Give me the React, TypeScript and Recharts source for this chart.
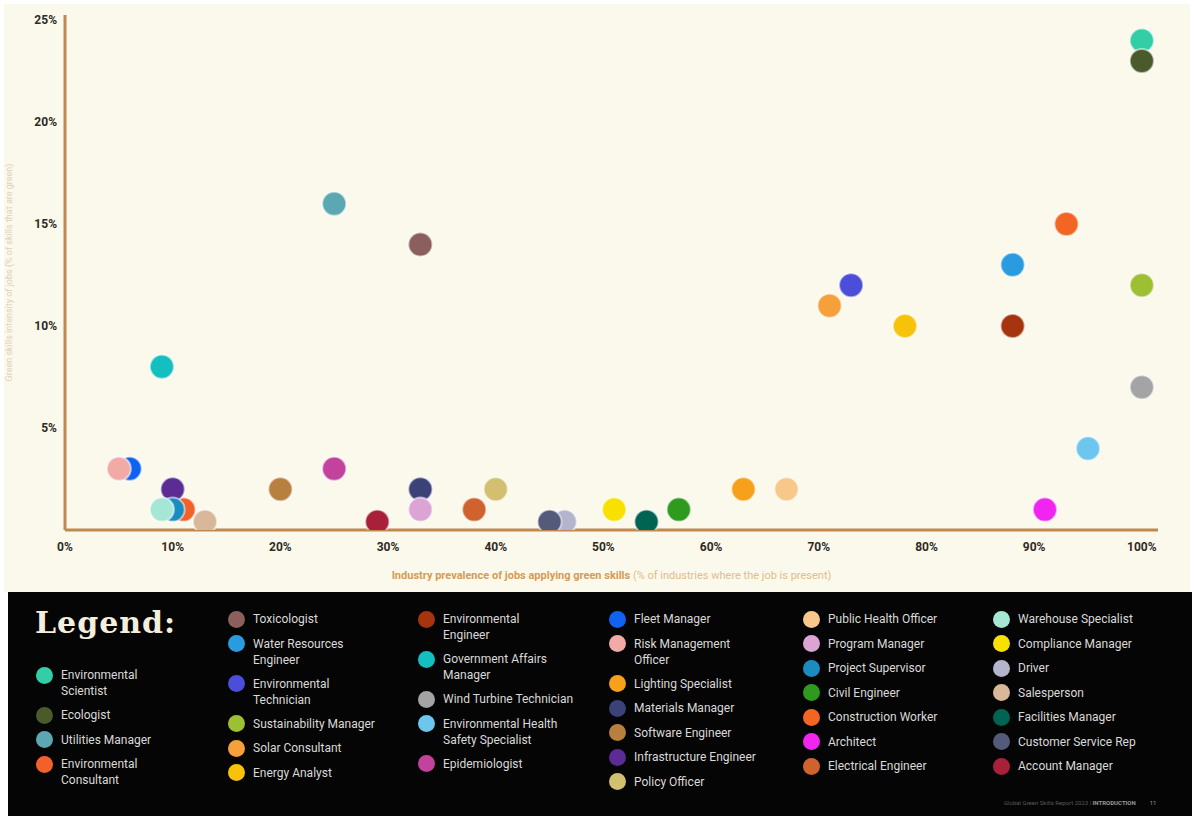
import { ScatterChart, Scatter, XAxis, YAxis } from "recharts";

// jobs in legend order; "\n" marks where the legend label wraps
const jobs = [
  "Environmental\nScientist",
  "Ecologist",
  "Utilities Manager",
  "Environmental\nConsultant",
  "Toxicologist",
  "Water Resources\nEngineer",
  "Environmental\nTechnician",
  "Sustainability Manager",
  "Solar Consultant",
  "Energy Analyst",
  "Environmental\nEngineer",
  "Government Affairs\nManager",
  "Wind Turbine Technician",
  "Environmental Health\nSafety Specialist",
  "Epidemiologist",
  "Fleet Manager",
  "Risk Management\nOfficer",
  "Lighting Specialist",
  "Materials Manager",
  "Software Engineer",
  "Infrastructure Engineer",
  "Policy Officer",
  "Public Health Officer",
  "Program Manager",
  "Project Supervisor",
  "Civil Engineer",
  "Construction Worker",
  "Architect",
  "Electrical Engineer",
  "Warehouse Specialist",
  "Compliance Manager",
  "Driver",
  "Salesperson",
  "Facilities Manager",
  "Customer Service Rep",
  "Account Manager",
];

const colors = [
  "#32cfa6", "#4a5a2a", "#5ba8b3", "#f2612a",
  "#8a5f5c", "#2b9be0", "#4a4ed8", "#9dbf34", "#f5a03a", "#f6c20a",
  "#a6340e", "#14bfc0", "#a4a4a4", "#6cc6ee", "#c2429e",
  "#0f62f2", "#f2aaa6", "#f6a01c", "#3a4278", "#b8803e", "#5a2c94", "#d2c070",
  "#f7c88a", "#dba4d4", "#1a8cc0", "#2e9a1e", "#f26522", "#f026f0", "#d0622e",
  "#a6e6d4", "#f8e000", "#b4b4cc", "#d8b898", "#006452", "#545a7a", "#a8203a",
];

// industry prevalence (% of industries where the job is present)
const prevalence = [
  100, 100, 25, 11,
  33, 88, 73, 100, 71, 78,
  88, 9, 100, 95, 25,
  6, 5, 63, 33, 20, 10, 40,
  67, 33, 10, 57, 93, 91, 38,
  9, 51, 46.4, 13, 54, 45, 29,
];

// share of green skills (%)
const greenShare = [
  24, 23, 16, 1,
  14, 13, 12, 12, 11, 10,
  10, 8, 7, 4, 3,
  3, 3, 2, 2, 2, 2, 2,
  2, 1, 1, 1, 15, 1, 1,
  1, 1, 0.4, 0.4, 0.4, 0.4, 0.4,
];

const legendColumnSizes = [4, 6, 5, 7, 7, 7];
const xTicks = [0, 10, 20, 30, 40, 50, 60, 70, 80, 90, 100];
const yTicks = [5, 10, 15, 20, 25];

const AXIS = "#bf8a52";
const CREAM = "#fbf9ec";

const Dot = (props: any) => (
  <circle
    cx={props.cx}
    cy={props.cy}
    r={12}
    fill={props.fill}
    stroke="#ffffff"
    strokeOpacity={0.55}
    strokeWidth={2}
  />
);

const XLabel = (props: any) => {
  const vb = props.viewBox;
  return (
    <text
      x={vb.x + vb.width / 2}
      y={vb.y + 49}
      textAnchor="middle"
      fontFamily="Roboto"
      fontSize={11}
    >
      <tspan fontWeight={700} fill="#d69b55">
        Industry prevalence of jobs applying green skills
      </tspan>
      <tspan fill="#e2bd88"> (% of industries where the job is present)</tspan>
    </text>
  );
};

const YLabel = (props: any) => {
  const vb = props.viewBox;
  const cy = vb.y + vb.height / 2;
  return (
    <text
      x={9}
      y={cy}
      transform={`rotate(-90, 9, ${cy})`}
      textAnchor="middle"
      dominantBaseline="central"
      fontFamily="Roboto"
      fontSize={9}
      fill="#cbb89a"
      opacity={0.6}
    >
      Green skills intensity of jobs (% of skills that are green)
    </text>
  );
};

const tickStyle = {
  fill: "#2e2a25",
  fontSize: 12,
  fontWeight: 700,
  fontFamily: "Roboto",
};

function LegendPanel() {
  const cols: number[][] = [];
  let start = 0;
  for (const n of legendColumnSizes) {
    cols.push(Array.from({ length: n }, (_, i) => start + i));
    start += n;
  }
  const colLeft = [37, 229, 419, 610, 804, 994];
  const colTop = [75, 19, 19, 19, 19, 19];
  return (
    <div
      style={{
        position: "absolute",
        left: 8,
        top: 592,
        width: 1184,
        height: 224,
        background: "#050505",
      }}
    >
      <div
        style={{
          position: "absolute",
          left: 27,
          top: 13,
          fontFamily: "DejaVu Serif",
          fontWeight: 700,
          fontSize: 30,
          letterSpacing: 1,
          color: "#f4efdc",
          lineHeight: "36px",
        }}
      >
        Legend:
      </div>
      {cols.map((idx, c) => (
        <div
          key={c}
          style={{
            position: "absolute",
            left: colLeft[c] - 9,
            top: colTop[c],
            display: "flex",
            flexDirection: "column",
            gap: 8,
          }}
        >
          {idx.map((i) => (
            <div key={i} style={{ display: "flex", alignItems: "flex-start" }}>
              <div
                style={{
                  width: 17,
                  height: 17,
                  borderRadius: "50%",
                  background: colors[i],
                  marginTop: -0.5,
                  flexShrink: 0,
                }}
              />
              <div
                style={{
                  marginLeft: 8,
                  fontFamily: "Roboto",
                  fontSize: 12,
                  lineHeight: "16px",
                  color: "#d9d9d9",
                  whiteSpace: "pre-line",
                }}
              >
                {jobs[i]}
              </div>
            </div>
          ))}
        </div>
      ))}
      <div
        style={{
          position: "absolute",
          left: 996,
          top: 207,
          fontFamily: "Roboto",
          fontSize: 6,
          color: "#5a5a5a",
          whiteSpace: "nowrap",
        }}
      >
        Global Green Skills Report 2023{"   |   "}
        <span style={{ color: "#9a9a9a", fontWeight: 700 }}>INTRODUCTION</span>
        <span style={{ marginLeft: 14, color: "#9a9a9a" }}>11</span>
      </div>
    </div>
  );
}

export default function App() {
  return (
    <div
      style={{
        position: "absolute",
        left: 0,
        top: 0,
        width: 1194,
        height: 816,
        background: "#ffffff",
        overflow: "hidden",
      }}
    >
      <div
        style={{
          position: "absolute",
          left: 4,
          top: 4,
          width: 1186,
          height: 588,
          background: CREAM,
        }}
      />
      <div style={{ position: "absolute", left: 0, top: 0 }}>
        <ScatterChart
          width={1194}
          height={590}
          margin={{ top: 15, right: 36, left: 0, bottom: 0 }}
        >
          <XAxis
            type="number"
            dataKey="x"
            domain={[0, 101.5]}
            ticks={xTicks}
            allowDataOverflow
            tickFormatter={(v: number) => `${v}%`}
            tick={tickStyle}
            tickLine={false}
            tickMargin={6}
            axisLine={{ stroke: AXIS, strokeWidth: 3 }}
            height={60}
            label={<XLabel />}
          />
          <YAxis
            type="number"
            dataKey="y"
            domain={[0, 25.25]}
            ticks={yTicks}
            allowDataOverflow
            tickFormatter={(v: number) => `${v}%`}
            tick={tickStyle}
            tickLine={false}
            axisLine={{ stroke: AXIS, strokeWidth: 3 }}
            width={65}
            label={<YLabel />}
          />
          {jobs.map((name, i) => (
            <Scatter
              key={name}
              name={name.replace("\n", " ")}
              data={[{ x: prevalence[i], y: greenShare[i] }]}
              fill={colors[i]}
              shape={Dot}
              isAnimationActive={false}
            />
          ))}
        </ScatterChart>
      </div>
      <LegendPanel />
    </div>
  );
}
